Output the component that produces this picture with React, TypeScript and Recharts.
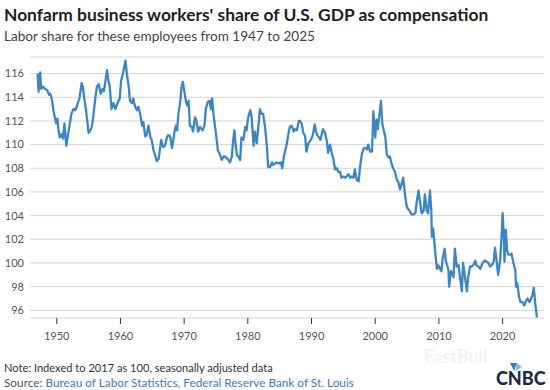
import { LineChart, Line, XAxis, YAxis, CartesianGrid } from 'recharts';

// quarterly-ish readings of the labor share index (2017 = 100)
const years = [
  1947.0, 1947.15, 1947.4, 1947.55, 1947.8, 1948.2, 1948.5, 1948.8, 1949.0, 1949.2,
  1949.5, 1949.7, 1949.9, 1950.1, 1950.3, 1950.5, 1950.8, 1951.0, 1951.2, 1951.5,
  1951.7, 1952.0, 1952.3, 1952.6, 1952.9, 1953.2, 1953.6, 1953.9, 1954.1, 1954.3,
  1954.6, 1955.0, 1955.2, 1955.5, 1955.7, 1956.0, 1956.3, 1956.6, 1956.9, 1957.2,
  1957.4, 1957.7, 1957.9, 1958.1, 1958.3, 1958.6, 1958.9, 1959.2, 1959.4, 1959.7,
  1959.9, 1960.1, 1960.4, 1960.6, 1960.8, 1961.0, 1961.3, 1961.5, 1961.8, 1962.0,
  1962.3, 1962.6, 1962.8, 1963.1, 1963.4, 1963.6, 1963.9, 1964.1, 1964.4, 1964.7,
  1964.9, 1965.2, 1965.5, 1965.7, 1966.0, 1966.4, 1966.7, 1967.0, 1967.3, 1967.5,
  1967.8, 1968.1, 1968.5, 1968.7, 1968.9, 1969.1, 1969.4, 1969.6, 1969.8, 1970.0,
  1970.3, 1970.5, 1970.7, 1970.9, 1971.2, 1971.4, 1971.7, 1971.9, 1972.2, 1972.5,
  1972.9, 1973.2, 1973.4, 1973.7, 1974.0, 1974.2, 1974.4, 1974.6, 1975.0, 1975.3,
  1975.6, 1975.9, 1976.2, 1976.4, 1976.8, 1977.2, 1977.5, 1977.7, 1977.9, 1978.1,
  1978.3, 1978.5, 1978.8, 1979.0, 1979.3, 1979.6, 1979.8, 1980.0, 1980.2, 1980.4,
  1980.6, 1980.9, 1981.1, 1981.4, 1981.7, 1981.9, 1982.2, 1982.4, 1982.7, 1983.0,
  1983.2, 1983.5, 1983.8, 1984.0, 1984.3, 1984.5, 1984.9, 1985.2, 1985.4, 1985.7,
  1986.1, 1986.4, 1986.6, 1986.9, 1987.2, 1987.4, 1987.7, 1988.0, 1988.2, 1988.5,
  1988.7, 1989.0, 1989.2, 1989.5, 1989.9, 1990.2, 1990.5, 1990.7, 1990.9, 1991.2,
  1991.4, 1991.8, 1992.1, 1992.4, 1992.6, 1992.9, 1993.2, 1993.4, 1993.7, 1994.0,
  1994.2, 1994.5, 1994.7, 1995.0, 1995.3, 1995.5, 1995.8, 1996.1, 1996.3, 1996.6,
  1996.8, 1997.1, 1997.4, 1997.6, 1997.9, 1998.2, 1998.4, 1998.7, 1998.9, 1999.2,
  1999.5, 1999.7, 2000.0, 2000.2, 2000.4, 2000.7, 2000.9, 2001.1, 2001.3, 2001.6,
  2001.8, 2002.1, 2002.3, 2002.6, 2002.9, 2003.1, 2003.4, 2003.6, 2003.9, 2004.2,
  2004.4, 2004.6, 2004.9, 2005.1, 2005.4, 2005.7, 2006.0, 2006.3, 2006.5, 2006.8,
  2007.0, 2007.3, 2007.6, 2007.8, 2008.1, 2008.3, 2008.6, 2008.8, 2008.9, 2009.1,
  2009.3, 2009.5, 2009.7, 2009.9, 2010.2, 2010.4, 2010.6, 2010.9, 2011.1, 2011.3,
  2011.5, 2011.6, 2011.9, 2012.1, 2012.3, 2012.5, 2012.8, 2013.1, 2013.3, 2013.6,
  2013.8, 2014.1, 2014.4, 2014.6, 2014.9, 2015.1, 2015.4, 2015.7, 2015.9, 2016.2,
  2016.5, 2016.7, 2017.0, 2017.2, 2017.5, 2017.8, 2018.0, 2018.3, 2018.6, 2018.8,
  2019.1, 2019.3, 2019.6, 2019.9, 2020.0, 2020.2, 2020.3, 2020.5, 2020.7, 2020.9,
  2021.2, 2021.4, 2021.7, 2022.0, 2022.1, 2022.3, 2022.6, 2022.8, 2023.1, 2023.4,
  2023.6, 2023.9, 2024.2, 2024.4, 2024.7, 2024.9, 2025.1, 2025.4,
];

const share = [
  116.0, 114.45, 116.1, 114.7, 114.9, 114.7, 114.6, 114.2, 114.3, 113.9,
  112.8, 112.3, 111.8, 112.2, 111.1, 110.6, 110.9, 110.5, 111.8, 109.9,
  110.6, 111.6, 112.6, 113.0, 112.9, 113.3, 114.0, 115.2, 114.9, 114.0,
  112.9, 111.0, 111.1, 111.5, 112.2, 113.7, 114.9, 115.1, 114.3, 114.7,
  114.5, 115.6, 116.3, 115.4, 115.0, 113.0, 113.5, 113.0, 113.3, 113.7,
  113.9, 115.4, 116.0, 116.6, 117.1, 116.0, 114.9, 113.7, 113.5, 113.9,
  113.2, 112.9, 113.2, 112.6, 111.6, 111.9, 110.7, 110.8, 111.6, 110.6,
  110.4, 109.5, 109.0, 108.6, 108.8, 110.4, 109.8, 109.9, 110.6, 110.8,
  110.7, 109.7, 111.1, 111.6, 111.2, 112.6, 113.7, 114.9, 115.3, 114.6,
  113.6, 113.3, 113.7, 111.6, 111.5, 111.1, 112.3, 112.1, 111.1, 111.5,
  111.2, 111.6, 113.0, 113.6, 113.7, 113.0, 113.9, 112.6, 110.9, 109.5,
  109.2, 108.7, 109.0, 109.0, 108.8, 108.5, 109.0, 110.4, 111.2, 109.9,
  109.1, 109.0, 108.7, 110.6, 110.4, 111.5, 111.2, 112.1, 112.6, 112.9,
  112.3, 109.9, 111.1, 110.1, 111.8, 113.0, 112.6, 112.6, 111.5, 109.8,
  108.1, 108.1, 108.5, 108.3, 108.4, 108.5, 108.4, 108.5, 108.0, 109.1,
  110.0, 111.0, 111.5, 111.6, 111.1, 111.3, 111.2, 112.0, 112.0, 111.7,
  111.0, 110.7, 109.4, 110.1, 110.4, 110.8, 111.7, 111.1, 110.8, 110.6,
  110.4, 111.3, 111.0, 110.3, 109.3, 110.0, 109.2, 108.9, 107.9, 108.0,
  107.7, 107.7, 107.2, 107.3, 107.2, 107.3, 107.5, 107.2, 107.3, 107.2,
  107.9, 107.0, 106.9, 108.0, 109.2, 109.7, 109.7, 109.6, 110.0, 109.4,
  109.4, 112.8, 110.6, 112.1, 111.3, 112.7, 113.7, 111.8, 111.3, 110.6,
  109.2, 108.9, 109.0, 108.3, 107.9, 107.7, 107.0, 106.9, 106.2, 106.8,
  107.2, 106.1, 104.9, 104.6, 104.4, 104.1, 104.1, 104.2, 105.1, 106.1,
  105.3, 104.2, 104.4, 105.8, 104.4, 104.2, 106.1, 104.5, 102.2, 102.9,
  101.7, 100.5, 99.5, 99.8, 99.5, 99.3, 100.4, 101.2, 100.1, 99.8,
  99.4, 98.0, 99.3, 99.1, 98.8, 101.2, 99.7, 99.8, 98.8, 97.6,
  100.0, 98.8, 97.6, 98.8, 99.7, 99.7, 99.8, 100.2, 99.8, 99.7,
  99.5, 99.8, 100.1, 100.2, 100.1, 100.0, 99.7, 99.8, 100.1, 101.3,
  100.0, 99.0, 100.1, 102.8, 104.2, 102.2, 100.1, 102.8, 101.1, 100.7,
  100.7, 100.8, 100.0, 99.4, 98.0, 98.3, 97.1, 96.7, 96.7, 96.4,
  96.7, 97.0, 96.7, 96.9, 97.3, 97.9, 96.7, 95.4,
];

const yTicks = [96, 98, 100, 102, 104, 106, 108, 110, 112, 114, 116];
const xTicks = [1950, 1960, 1970, 1980, 1990, 2000, 2010, 2020];

const data = years.map((year, i) => ({ year, share: share[i] }));

const FONT = 'Lato, "Open Sans", sans-serif';

export default function App() {
  return (
    <div
      style={{
        position: 'absolute', left: 0, top: 0, width: 550, height: 390,
        background: '#fff', overflow: 'hidden', fontFamily: FONT,
      }}
    >
      {/* titles, notes and logo */}
      <svg width={550} height={390} style={{ position: 'absolute', left: 0, top: 0 }}>
        <text x={4} y={20.5} fontSize={17.4} fontWeight={700} fill="#1e1e1e" fontFamily={FONT}>
          Nonfarm business workers' share of U.S. GDP as compensation
        </text>
        <text x={4} y={40.5} fontSize={13.6} fill="#444" fontFamily={FONT}>
          Labor share for these employees from 1947 to 2025
        </text>
        <text x={424} y={363} fontSize={18} fontWeight={700} fill="#f3f3f3" fontFamily={FONT}>
          FastBull
        </text>
        <text x={4} y={371.5} fontSize={11.1} fill="#333" fontFamily={FONT}>
          Note: Indexed to 2017 as 100, seasonally adjusted data
        </text>
        <text x={4} y={386.5} fontSize={11.8} fill="#555" fontFamily={FONT}>
          Source: <tspan fill="#3b7bbf">Bureau of Labor Statistics, Federal Reserve Bank of St. Louis</tspan>
        </text>
        <polygon points="510,363 517,363 514,371" fill="#2f7fc1" />
        <polygon points="517,363 522,367 515,371" fill="#7fb8e6" />
        <text x={496} y={385} fontSize={18} fontWeight={900} fill="#1c2a4a" fontFamily={FONT}>
          CNBC
        </text>
      </svg>

      <div style={{ position: 'absolute', left: 0, top: 0 }}>
        <LineChart width={550} height={390} data={data} margin={{ top: 57, right: 6, bottom: 42, left: 0 }}>
          <CartesianGrid vertical={false} stroke="#d4d4d4" strokeWidth={1} />
          <XAxis
            dataKey="year"
            type="number"
            domain={[1945.8, 2026.5]}
            ticks={xTicks}
            height={30}
            axisLine={false}
            tickLine={{ stroke: '#333' }}
            tickSize={6}
            tickMargin={8}
            tick={{ fontSize: 11, fill: '#555', fontFamily: FONT }}
          />
          <YAxis
            type="number"
            domain={[95.35, 117.4]}
            ticks={yTicks}
            width={30}
            axisLine={false}
            tickLine={false}
            tickSize={6}
            tickMargin={0}
            tick={{ fontSize: 11, fill: '#555', fontFamily: FONT }}
          />
          <Line
            type="linear"
            dataKey="share"
            stroke="#3d86c6"
            strokeWidth={2.3}
            strokeLinejoin="round"
            dot={false}
            isAnimationActive={false}
          />
        </LineChart>
      </div>
    </div>
  );
}
